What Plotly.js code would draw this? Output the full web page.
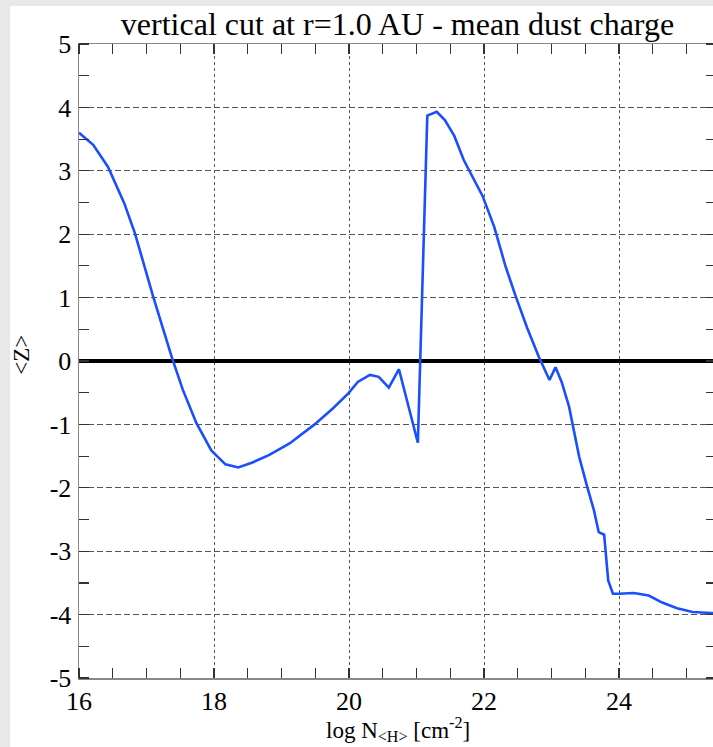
<!DOCTYPE html>
<html>
<head>
<meta charset="utf-8">
<script src="https://cdn.plot.ly/plotly-3.0.1.min.js"></script>
<style>
  html, body { margin: 0; padding: 0; background: #e8e8e8; overflow: hidden; width: 713px; height: 747px; }
  #chart { position: absolute; left: 10px; top: 6px; width: 720px; height: 741px; }
</style>
</head>
<body>
<div id="chart"></div>
<script>
// log N<H> [cm^-2]
const xLogN = [16.0, 16.21, 16.43, 16.67, 16.83, 17.10, 17.38, 17.54, 17.74, 17.96,
  18.17, 18.36, 18.57, 18.82, 19.12, 19.49, 19.76, 19.99, 20.13, 20.31,
  20.44, 20.59, 20.74, 21.02, 21.16, 21.30, 21.42, 21.56, 21.70, 21.83,
  21.98, 22.15, 22.32, 22.47, 22.64, 22.81, 22.97, 23.06, 23.15, 23.26,
  23.41, 23.53, 23.63, 23.70, 23.78, 23.84, 23.91, 24.00, 24.22, 24.44,
  24.64, 24.86, 25.09, 25.44];
// mean dust charge <Z>
const zMean = [3.60, 3.41, 3.06, 2.49, 2.01, 1.01, 0.04, -0.46, -0.98, -1.41,
  -1.63, -1.68, -1.60, -1.48, -1.30, -1.00, -0.75, -0.51, -0.33, -0.22,
  -0.25, -0.42, -0.13, -1.29, 3.87, 3.93, 3.80, 3.55, 3.17, 2.91,
  2.60, 2.12, 1.49, 1.02, 0.52, 0.07, -0.30, -0.10, -0.33, -0.72,
  -1.51, -1.99, -2.36, -2.70, -2.74, -3.46, -3.67, -3.67, -3.66, -3.70,
  -3.81, -3.90, -3.96, -3.98];

const xTickVals = [16, 18, 20, 22, 24];
const xTickText = ['16', '18', '20', '22', '24'];
const yTickVals = [-5, -4, -3, -2, -1, 0, 1, 2, 3, 4, 5];
const yTickText = ['-5', '-4', '-3', '-2', '-1', '0', '1', '2', '3', '4', '5'];

const titleText = 'vertical cut at r=1.0 AU - mean dust charge';
const xTitle = 'log N<sub>&lt;H&gt;</sub> [cm<sup>-2</sup>]';
const yTitle = '&lt;Z&gt;';

const serif = 'Liberation Serif';

const trace = {
  x: xLogN, y: zMean, type: 'scatter', mode: 'lines',
  line: { color: '#1a4fff', width: 2.6 },
  hoverinfo: 'skip'
};

function axisBase() {
  return {
    showline: true, linecolor: '#888888', linewidth: 1.5, mirror: 'ticks',
    ticks: '', showgrid: true, gridcolor: '#555555', gridwidth: 1,
    tickfont: { family: serif, size: 26, color: '#000000' },
    tickmode: 'array', fixedrange: true
  };
}

const layout = {
  width: 720, height: 741,
  margin: { l: 69, r: 14, t: 38, b: 69, pad: 0 },
  font: { family: serif, color: '#000000' },
  paper_bgcolor: '#ffffff', plot_bgcolor: '#ffffff',
  showlegend: false,
  title: {
    text: titleText, font: { family: serif, size: 32, color: '#000000' },
    x: 0.5, xref: 'paper', xanchor: 'center', y: 0.976, yref: 'container', yanchor: 'middle'
  },
  xaxis: Object.assign(axisBase(), {
    range: [16, 25.437], tickvals: xTickVals, ticktext: xTickText,
    griddash: '3px,3px', zeroline: false, ticklabelstandoff: -1,
    minor: { tickmode: 'linear', tick0: 16, dtick: 0.5, ticks: 'inside', ticklen: 10,
      tickcolor: '#333333', tickwidth: 1.2, showgrid: false }
  }),
  yaxis: Object.assign(axisBase(), {
    range: [-5, 5], tickvals: yTickVals, ticktext: yTickText,
    griddash: '6px,3px', zeroline: true, zerolinecolor: '#000000', zerolinewidth: 4,
    ticklabelstandoff: 1,
    minor: { tickmode: 'linear', tick0: 0, dtick: 0.5, ticks: 'inside', ticklen: 10,
      tickcolor: '#333333', tickwidth: 1.2, showgrid: false }
  }),
  annotations: [
    { text: xTitle, xref: 'paper', yref: 'paper', x: 0.5, y: -0.082, xanchor: 'center', yanchor: 'middle',
      showarrow: false, font: { family: serif, size: 23, color: '#000000' } },
    { text: yTitle, xref: 'paper', yref: 'paper', x: -0.0895, y: 0.51, xanchor: 'center', yanchor: 'middle',
      textangle: -90, showarrow: false, font: { family: serif, size: 23, color: '#000000' } }
  ]
};

Plotly.newPlot('chart', [trace], layout, { staticPlot: true, displayModeBar: false });
</script>
</body>
</html>
